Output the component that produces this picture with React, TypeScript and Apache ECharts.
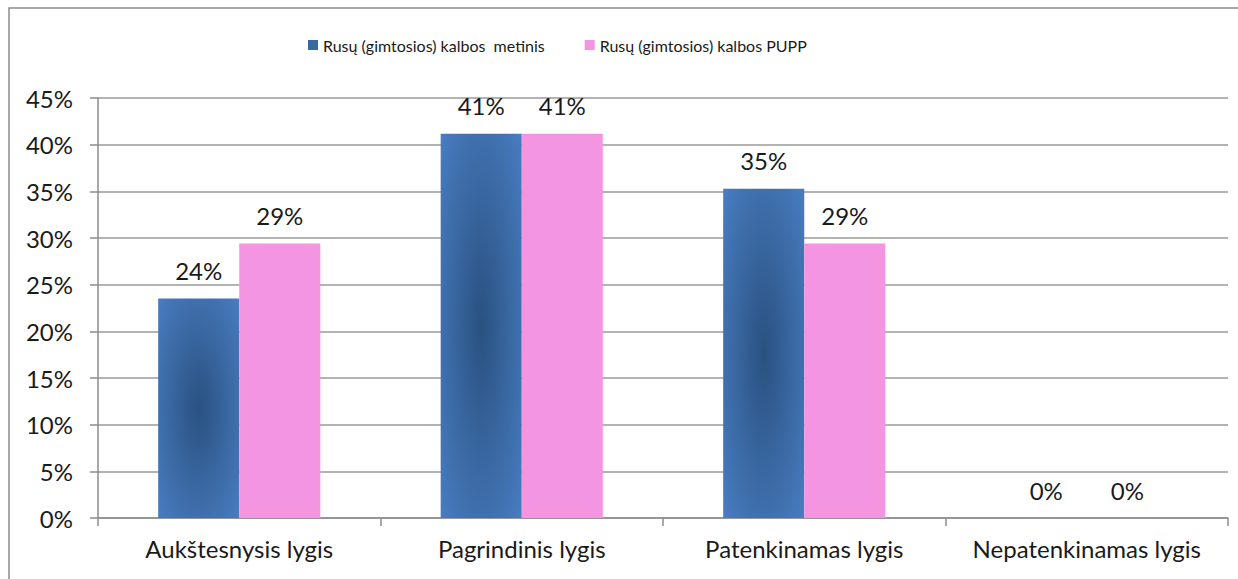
import React, { useEffect, useRef } from "react";
import * as echarts from "echarts";

const categories = ["Aukštesnysis lygis", "Pagrindinis lygis", "Patenkinamas lygis", "Nepatenkinamas lygis"];
const seriesNames = ["Rusų (gimtosios) kalbos  metinis", "Rusų (gimtosios) kalbos PUPP"];
const metinis = [23.53, 41.18, 35.29, 0];
const pupp = [29.41, 41.18, 29.41, 0];
const yTicks = [0, 5, 10, 15, 20, 25, 30, 35, 40, 45];

const FONT = "Lato, 'Open Sans', sans-serif";

export default function App() {
  const ref = useRef<HTMLDivElement>(null);
  useEffect(() => {
    if (!ref.current) return;
    const chart = echarts.init(ref.current, undefined, { renderer: "svg" });
    const blueGrad = {
      type: "radial",
      x: 0.5,
      y: 0.5,
      r: 0.75,
      colorStops: [
        { offset: 0, color: "#2a5180" },
        { offset: 1, color: "#4a80c6" },
      ],
    };
    const label = {
      show: true,
      position: "top",
      distance: 16,
      color: "#1a1a1a",
      fontSize: 24,
      fontFamily: FONT,
      formatter: (p: any) => Math.round(p.value) + "%",
    };
    chart.setOption({
      animation: false,
      backgroundColor: "#ffffff",
      textStyle: { fontFamily: FONT },
      graphic: [
        {
          type: "rect",
          shape: { x: 9, y: 8, width: 1250, height: 620 },
          style: { fill: "none", stroke: "#8c8c8c", lineWidth: 1.5 },
          silent: true,
        },
      ],
      legend: {
        left: 303,
        top: 32,
        itemWidth: 10,
        itemHeight: 10,
        itemGap: 40,
        textStyle: { fontSize: 16, color: "#1a1a1a", fontFamily: FONT },
        data: [
          { name: seriesNames[0], icon: "rect", itemStyle: { color: "#3a68a0" } },
          { name: seriesNames[1], icon: "rect", itemStyle: { color: "#f495e2" } },
        ],
      },
      grid: { left: 98, right: 10, top: 98, bottom: 61, containLabel: false },
      xAxis: {
        type: "category",
        data: categories,
        axisLine: { lineStyle: { color: "#8c8c8c", width: 1.5 } },
        axisTick: { show: true, length: 8, interval: 0, lineStyle: { color: "#8c8c8c", width: 1.5 } },
        axisLabel: { fontSize: 24, color: "#1a1a1a", margin: 18, interval: 0, fontFamily: FONT },
      },
      yAxis: {
        type: "value",
        min: 0,
        max: 45,
        interval: 5,
        axisLine: { show: true, lineStyle: { color: "#8c8c8c", width: 1.5 } },
        axisTick: { show: true, length: 8, lineStyle: { color: "#8c8c8c", width: 1.5 } },
        splitLine: { show: true, lineStyle: { color: "#9a9a9a", width: 1.5 } },
        axisLabel: {
          fontSize: 24,
          color: "#1a1a1a",
          margin: 25,
          fontFamily: FONT,
          formatter: (v: number) => (yTicks.includes(v) ? v + "%" : ""),
        },
      },
      series: [
        {
          name: seriesNames[0],
          type: "bar",
          data: metinis,
          barGap: "0%",
          barCategoryGap: "42.6%",
          itemStyle: { color: blueGrad },
          label,
        },
        {
          name: seriesNames[1],
          type: "bar",
          data: pupp,
          barGap: "0%",
          barCategoryGap: "42.6%",
          itemStyle: { color: "#f495e2" },
          label,
        },
      ],
    });
    return () => chart.dispose();
  }, []);
  return (
    <div
      ref={ref}
      style={{ position: "fixed", left: 0, top: 0, width: 1238, height: 579 }}
    />
  );
}
